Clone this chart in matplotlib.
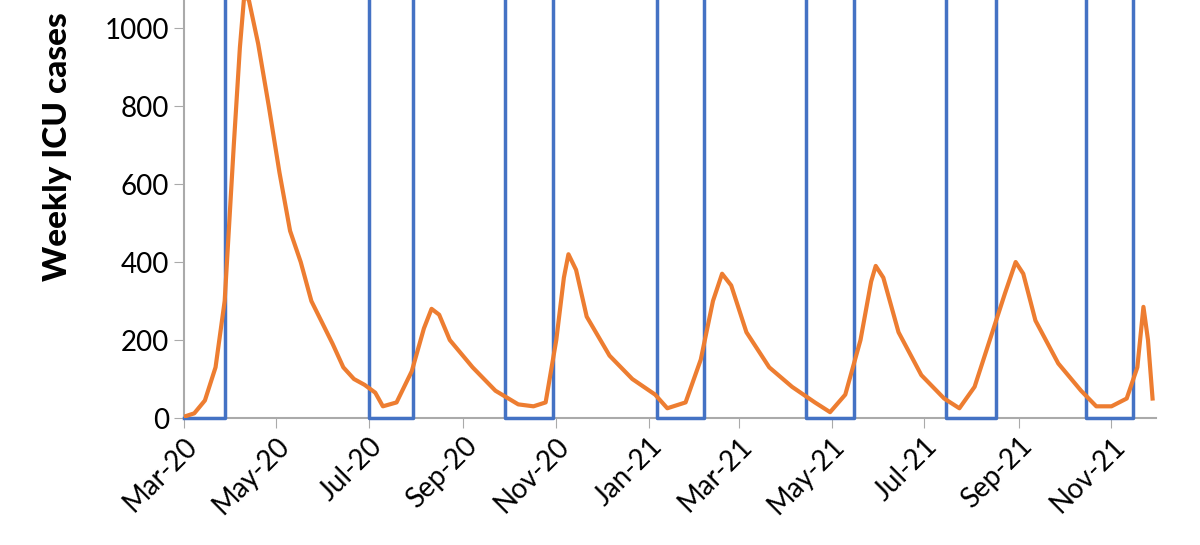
import numpy as np
import pandas as pd
import matplotlib.pyplot as plt
import matplotlib.dates as mdates

plt.rcParams['font.family'] = ['Lato', 'DejaVu Sans']

start = pd.Timestamp("2020-03-01")

# orange series: (days since 1 Mar 2020, weekly ICU cases)
icu_days = [0, 7, 14, 21, 27, 33, 37, 40, 43, 49, 56, 63, 70, 77, 84, 91, 98, 105,
            112, 119, 126, 131, 140, 150, 158, 163, 168, 175, 190, 205, 220, 230,
            238, 245, 250, 253, 258, 265, 280, 295, 310, 318, 330, 340, 348, 354,
            360, 370, 385, 400, 415, 425, 435, 445, 452, 455, 460, 470, 485, 500,
            510, 520, 530, 540, 547, 552, 560, 575, 590, 600, 610, 620, 627, 631,
            634, 637]
icu_vals = [3, 12, 45, 130, 300, 700, 950, 1090, 1070, 960, 800, 630, 480, 400, 300,
            245, 190, 130, 100, 85, 65, 30, 40, 120, 230, 280, 265, 200, 130, 70,
            35, 30, 40, 200, 360, 420, 380, 260, 160, 100, 60, 25, 40, 150, 300, 370,
            340, 220, 130, 80, 40, 15, 60, 200, 350, 390, 360, 220, 110, 50, 25, 80,
            200, 320, 400, 370, 250, 140, 70, 30, 30, 50, 130, 285, 200, 50]

# blue step series: day of change, level (0 low / 1 high)
step_days = [0, 27, 122, 151, 211, 243, 311, 342, 409, 441, 501, 534, 593, 624, 640]
step_levels = [0, 1, 0, 1, 0, 1, 0, 1, 0, 1, 0, 1, 0, 1, 1]

month_ticks = ["2020-03-01", "2020-05-01", "2020-07-01", "2020-09-01", "2020-11-01",
               "2021-01-01", "2021-03-01", "2021-05-01", "2021-07-01", "2021-09-01",
               "2021-11-01"]

icu_dates = start + pd.to_timedelta(icu_days, unit="D")
step_dates = start + pd.to_timedelta(step_days, unit="D")

fig = plt.figure(figsize=(12, 5.45), dpi=100)
ax = fig.add_axes([0.153, 0.233, 0.81, 0.767])

ax.set_ylim(0, 1072)
ax.set_xlim(start, start + pd.Timedelta(days=639))

# high level sits above the figure edge so only verticals and the low runs show
blue_y = np.where(np.array(step_levels) == 1, 1300, 0)
ax.step(step_dates, blue_y, where="post", color="#4472c4", lw=2.5,
        clip_on=False, zorder=4)
ax.plot(icu_dates, icu_vals, color="#ed7d31", lw=3, zorder=5)

ax.set_yticks(range(0, 1001, 200))
ax.set_xticks(pd.to_datetime(month_ticks))
ax.xaxis.set_major_formatter(mdates.DateFormatter("%b-%y"))
plt.setp(ax.get_xticklabels(), rotation=45, ha="right", rotation_mode="anchor")
ax.tick_params(labelsize=20, color="#aaaaaa", length=7)
ax.set_ylabel("Weekly ICU cases", fontsize=24, fontweight="black")
ax.yaxis.set_label_coords(-0.115, 0.65)

for s in ["top", "right"]:
    ax.spines[s].set_visible(False)
for s in ["left", "bottom"]:
    ax.spines[s].set_color("#aaaaaa")
    ax.spines[s].set_linewidth(1.5)

fig.savefig("out.png")
